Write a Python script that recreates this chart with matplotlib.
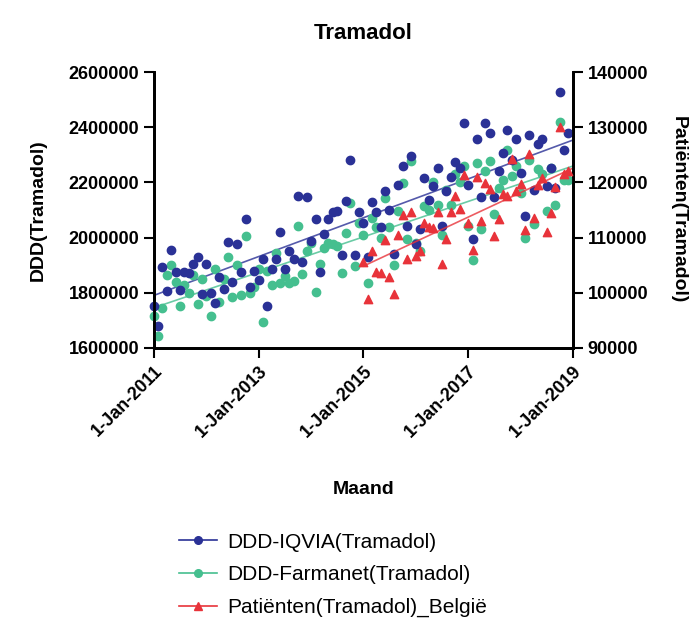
import matplotlib.pyplot as plt
import matplotlib.dates as mdates
from matplotlib.lines import Line2D
from matplotlib.ticker import FuncFormatter
import numpy as np
import pandas as pd

plt.rcParams['font.family'] = ['Liberation Sans', 'DejaVu Sans']

# monthly data, Jan 2011 - Dec 2018
months = pd.date_range('2011-01-01', periods=96, freq='MS')
months_pat = pd.date_range('2015-01-01', periods=48, freq='MS')

ddd_iqvia = [
    1751000, 1681000, 1894000, 1807000, 1955000, 1876000, 1811000, 1874000, 1871000, 1904000, 1928000, 1795000,
    1904000, 1799000, 1763000, 1859000, 1813000, 1984000, 1838000, 1976000, 1874000, 2069000, 1820000, 1879000,
    1847000, 1922000, 1751000, 1888000, 1922000, 2020000, 1888000, 1952000, 1922000, 2150000, 1910000, 2148000,
    1988000, 2069000, 1874000, 2012000, 2069000, 2092000, 2096000, 1936000, 2132000, 2283000, 1936000, 2092000,
    2054000, 1928000, 2129000, 2092000, 2040000, 2168000, 2102000, 1940000, 2192000, 2261000, 2042000, 2295000,
    1976000, 2030000, 2217000, 2138000, 2187000, 2251000, 2044000, 2170000, 2221000, 2275000, 2251000, 2416000,
    2191000, 1996000, 2356000, 2149000, 2416000, 2378000, 2147000, 2243000, 2306000, 2391000, 2282000, 2356000,
    2234000, 2078000, 2372000, 2171000, 2339000, 2356000, 2189000, 2252000, 2180000, 2527000, 2318000, 2378000,
]

ddd_farmanet = [
    1717000, 1645000, 1743000, 1864000, 1899000, 1840000, 1751000, 1828000, 1800000, 1864000, 1760000, 1850000,
    1790000, 1717000, 1886000, 1765000, 1849000, 1928000, 1783000, 1900000, 1792000, 2006000, 1800000, 1820000,
    1886000, 1695000, 1879000, 1830000, 1946000, 1836000, 1860000, 1836000, 1843000, 2042000, 1868000, 1950000,
    1982000, 1801000, 1904000, 1964000, 1982000, 1976000, 1970000, 1871000, 2018000, 2126000, 1897000, 2054000,
    2008000, 1835000, 2070000, 2040000, 2000000, 2144000, 2040000, 1900000, 2096000, 2199000, 1996000, 2277000,
    1982000, 1952000, 2114000, 2102000, 2200000, 2117000, 2008000, 2172000, 2120000, 2230000, 2200000, 2260000,
    2042000, 1919000, 2271000, 2030000, 2240000, 2277000, 2084000, 2180000, 2210000, 2319000, 2222000, 2260000,
    2162000, 2000000, 2283000, 2048000, 2249000, 2230000, 2096000, 2252000, 2120000, 2421000, 2210000, 2208000,
]

patienten = [
    105600, 98900, 107600, 103800, 103600, 109500, 102900, 99800, 110500, 114100, 106200, 114600,
    106700, 107600, 112700, 111900, 111800, 114600, 105200, 109700, 114700, 117600, 115200, 121400,
    112700, 107800, 121000, 113000, 119900, 118800, 110300, 113400, 118000, 117500, 124200, 118500,
    119800, 111300, 125100, 113500, 119500, 120900, 111000, 114400, 119100, 130100, 121600, 122000,
]

xtick_dates = ['2011-01-01', '2013-01-01', '2015-01-01', '2017-01-01', '2019-01-01']
xtick_labels = ['1-Jan-2011', '1-Jan-2013', '1-Jan-2015', '1-Jan-2017', '1-Jan-2019']

c_blue = '#2a3196'
c_green = '#45bf8f'
c_red = '#e8333a'

fig = plt.figure(figsize=(6.97, 6.28), dpi=100)
ax = fig.add_axes([0.221, 0.446, 0.601, 0.439])
ax2 = ax.twinx()

# linear trend lines
xn = mdates.date2num(months)
xp = mdates.date2num(months_pat)
fit_b = np.poly1d(np.polyfit(xn, ddd_iqvia, 1))
fit_g = np.poly1d(np.polyfit(xn, ddd_farmanet, 1))
fit_r = np.poly1d(np.polyfit(xp, patienten, 1))
x_end = mdates.date2num(pd.Timestamp('2019-01-01'))
xl = np.array([xn[0], x_end])
xr = np.array([xp[0], x_end])

ax.plot(xl, fit_g(xl), color=c_green, lw=1.2, alpha=0.8)
ax.plot(xl, fit_b(xl), color=c_blue, lw=1.2, alpha=0.8)
ax2.plot(xr, fit_r(xr), color=c_red, lw=1.2, alpha=0.8)

ax.scatter(xn, ddd_farmanet, s=36, color=c_green, zorder=3, clip_on=False)
ax.scatter(xn, ddd_iqvia, s=36, color=c_blue, zorder=4, clip_on=False)
ax2.scatter(xp, patienten, s=36, marker='^', color=c_red, zorder=3, clip_on=False)

ax.set_xlim(xn[0], x_end)
ax.set_ylim(1600000, 2600000)
ax2.set_ylim(90000, 140000)
ax.set_yticks(np.arange(1600000, 2600001, 200000))
ax2.set_yticks(np.arange(90000, 140001, 10000))
plain = FuncFormatter(lambda v, p: f'{int(round(v))}')
ax.yaxis.set_major_formatter(plain)
ax2.yaxis.set_major_formatter(plain)
ax.set_xticks(mdates.date2num(pd.to_datetime(xtick_dates)))
ax.set_xticklabels(xtick_labels, rotation=45, ha='right', rotation_mode='anchor')

for a in (ax, ax2):
    a.spines['top'].set_visible(False)
    for s in ('left', 'right', 'bottom'):
        a.spines[s].set_linewidth(2)
    a.tick_params(width=1.5, length=7, labelsize=13)
    for lab in a.get_xticklabels() + a.get_yticklabels():
        lab.set_fontweight('bold')

ax.set_ylabel('DDD(Tramadol)', fontsize=14, fontweight='bold', labelpad=16)
ax2.set_ylabel('Patiënten(Tramadol)', fontsize=14, fontweight='bold', rotation=270, labelpad=28)
ax.set_xlabel('Maand', fontsize=14, fontweight='bold', labelpad=29)
ax.set_title('Tramadol', fontsize=16, fontweight='bold', pad=24)

handles = [
    Line2D([], [], color=c_blue, marker='o', markersize=5.5, lw=1.2),
    Line2D([], [], color=c_green, marker='o', markersize=5.5, lw=1.2),
    Line2D([], [], color=c_red, marker='^', markersize=5.5, lw=1.2),
]
labels = ['DDD-IQVIA(Tramadol)', 'DDD-Farmanet(Tramadol)', 'Patiënten(Tramadol)_België']
fig.legend(handles, labels, loc='upper left', bbox_to_anchor=(0.245, 0.165), frameon=False,
           fontsize=15, handlelength=1.8, handletextpad=0.5, labelspacing=0.65, borderaxespad=0)

fig.savefig('out.png', dpi=100)
